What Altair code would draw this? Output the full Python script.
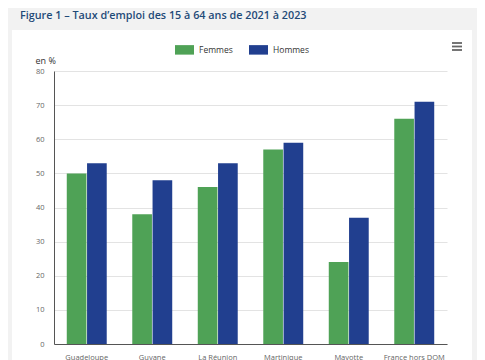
import altair as alt
import pandas as pd

regions = ["Guadeloupe", "Guyane", "La Réunion", "Martinique", "Mayotte", "France hors DOM"]
femmes = [50, 38, 46, 57, 24, 66]
hommes = [53, 48, 53, 59, 37, 71]
series = ["Femmes", "Hommes"]
colors = ["#4fa256", "#213f8f"]
y_ticks = [0, 10, 20, 30, 40, 50, 60, 70, 80]
title_text = "Figure 1 – Taux d’emploi des 15 à 64 ans de 2021 à 2023"

rows = []
for r, f, h in zip(regions, femmes, hommes):
    rows.append({"region": r, "sexe": "Femmes", "taux": f})
    rows.append({"region": r, "sexe": "Hommes", "taux": h})
df = pd.DataFrame(rows)

one = pd.DataFrame({"k": [0]})
GREY = "#f2f2f2"

# grey page surround (the white card is the chart background)
bands = [
    alt.Chart(one).mark_rect(color=GREY).encode(
        x=alt.value(x1), x2=alt.value(x2), y=alt.value(y1), y2=alt.value(y2)
    )
    for (x1, x2, y1, y2) in [(-60, 440, -80, -41), (-60, -42, -41, 400), (418, 440, -41, 400)]
]

title = alt.Chart(one).mark_text(
    align="left", baseline="alphabetic", fontSize=10.8, fontWeight=600,
    color="#1f4a78", font="Open Sans",
).encode(x=alt.value(-34), y=alt.value(-52), text=alt.value(title_text))

menu_layers = [
    alt.Chart(one).mark_rule(color="#666666", strokeWidth=1.8).encode(
        x=alt.value(398), x2=alt.value(408), y=alt.value(yy)
    )
    for yy in (-28, -24.5, -21)
]

bars = alt.Chart(df).mark_bar().encode(
    x=alt.X(
        "region:N",
        sort=regions,
        scale=alt.Scale(paddingInner=0.39, paddingOuter=0.195),
        axis=alt.Axis(
            title=None, labelAngle=0, ticks=False, labelPadding=9,
            labelFontSize=7.5, labelColor="#666666", labelFont="Open Sans",
            domainColor="#555555", grid=False,
        ),
    ),
    xOffset=alt.XOffset("sexe:N", sort=series, scale=alt.Scale(paddingInner=0.03)),
    y=alt.Y(
        "taux:Q",
        scale=alt.Scale(domain=[0, 80], nice=False),
        axis=alt.Axis(
            values=y_ticks, title="en %", titleAngle=0, titleAlign="left",
            titleX=-19, titleY=-6, titleFontSize=9, titleFontWeight="normal",
            titleColor="#333333", titleFont="Open Sans",
            ticks=False, labelPadding=10, labelFontSize=7.5,
            labelColor="#666666", labelFont="Open Sans",
            domainColor="#555555", gridColor="#e3e3e3",
        ),
    ),
    color=alt.Color(
        "sexe:N",
        sort=series,
        scale=alt.Scale(domain=series, range=colors),
        legend=alt.Legend(
            title=None, orient="none", legendX=121, legendY=-31,
            direction="horizontal",
            symbolType="M-1,-0.5L1,-0.5L1,0.5L-1,0.5Z", symbolSize=361,
            symbolStrokeWidth=0, labelFontSize=8.5, labelColor="#333333",
            labelFont="Open Sans", columnPadding=16, labelOffset=5,
        ),
    ),
)

chart = alt.layer(*bands, title, *menu_layers, bars).properties(
    width=393,
    height=273,
    background="white",
    autosize=alt.AutoSizeParams(type="none"),
    padding={"left": 46, "top": 63, "right": 30, "bottom": 16},
).configure_view(stroke=None)

chart.save("out.html", embed_options={"renderer": "svg", "actions": False})
